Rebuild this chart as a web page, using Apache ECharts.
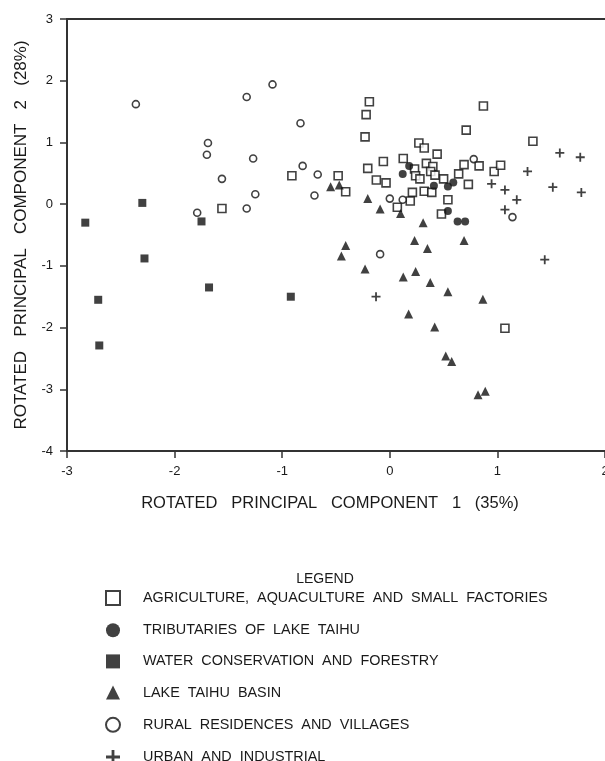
<!DOCTYPE html>
<html>
<head>
    <meta charset="utf-8">
    <title>index</title>
    <script src="https://cdn.jsdelivr.net/npm/echarts@6/dist/echarts.min.js"></script>
    <style>
        html, body { margin: 0; padding: 0; background: #fff; overflow: hidden; }
        #main { width: 605px; height: 761px; }
    </style>
</head>
<body>
    <div id="main"></div>
<script>
    // values, [pc1, pc2]
    var agriculture = [
        [-1.56, -0.07], [-0.91, 0.46], [-0.19, 1.66], [-0.22, 1.45], [-0.23, 1.09],
        [0.87, 1.59], [0.71, 1.20], [1.33, 1.02], [0.27, 0.99], [0.32, 0.91],
        [0.44, 0.81], [-0.06, 0.69], [0.125, 0.74], [-0.205, 0.58], [-0.125, 0.39],
        [-0.035, 0.345], [-0.48, 0.46], [-0.41, 0.20], [0.23, 0.57], [0.24, 0.46],
        [0.28, 0.41], [0.34, 0.66], [0.40, 0.61], [0.38, 0.53], [0.42, 0.47],
        [0.50, 0.41], [0.64, 0.49], [0.69, 0.64], [0.83, 0.62], [0.73, 0.32],
        [0.97, 0.53], [1.03, 0.63], [0.32, 0.21], [0.39, 0.19], [0.21, 0.19],
        [0.19, 0.05], [0.54, 0.07], [0.07, -0.05], [0.48, -0.16], [1.07, -2.01]
    ];
    var tributaries = [
        [0.18, 0.62], [0.12, 0.49], [0.41, 0.30], [0.54, 0.285],
        [0.59, 0.35], [0.54, -0.11], [0.63, -0.28], [0.70, -0.28]
    ];
    var waterForestry = [
        [-2.83, -0.30], [-2.30, 0.02], [-1.75, -0.28], [-2.28, -0.88],
        [-2.71, -1.55], [-2.70, -2.29], [-1.68, -1.35], [-0.92, -1.50]
    ];
    var taihuBasin = [
        [-0.55, 0.28], [-0.47, 0.31], [-0.205, 0.09], [-0.09, -0.08], [0.10, -0.15],
        [0.31, -0.30], [-0.41, -0.67], [-0.45, -0.84], [0.23, -0.59], [0.69, -0.59],
        [0.35, -0.72], [-0.23, -1.05], [0.125, -1.18], [0.24, -1.09], [0.376, -1.27],
        [0.54, -1.42], [0.865, -1.54], [0.175, -1.78], [0.417, -1.99], [0.52, -2.46],
        [0.575, -2.55], [0.82, -3.09], [0.887, -3.03]
    ];
    var rural = [
        [-2.36, 1.62], [-1.69, 0.99], [-1.70, 0.80], [-1.56, 0.41], [-1.79, -0.14],
        [-1.33, 1.735], [-1.09, 1.94], [-1.27, 0.74], [-1.25, 0.16], [-1.33, -0.07],
        [-0.83, 1.31], [-0.81, 0.62], [-0.67, 0.48], [-0.70, 0.14], [0.00, 0.09],
        [0.12, 0.07], [0.78, 0.73], [1.14, -0.21], [-0.09, -0.81]
    ];
    var urban = [
        [1.58, 0.83], [1.77, 0.76], [1.28, 0.53], [0.946, 0.33], [1.07, 0.23],
        [1.515, 0.275], [1.78, 0.19], [1.18, 0.07], [1.07, -0.09], [1.44, -0.90],
        [-0.128, -1.50]
    ];

    var seriesNames = [
        'AGRICULTURE,  AQUACULTURE  AND  SMALL  FACTORIES',
        'TRIBUTARIES  OF  LAKE  TAIHU',
        'WATER  CONSERVATION  AND  FORESTRY',
        'LAKE  TAIHU  BASIN',
        'RURAL  RESIDENCES  AND  VILLAGES',
        'URBAN  AND  INDUSTRIAL'
    ];

    var plusPath = 'path://M4,0 H6 V4 H10 V6 H6 V10 H4 V6 H0 V4 H4 Z';
    var font = 'Liberation Sans, Arial, sans-serif';
    var ink = '#1a1a1a';

    var chart = echarts.init(document.getElementById('main'));
    var option = {
        backgroundColor: '#fff',
        animation: false,
        title: {
            text: 'LEGEND',
            left: 320,
            top: 567,
            textAlign: 'center',
            textStyle: { fontFamily: font, fontSize: 14, fontWeight: 'normal', color: ink }
        },
        legend: {
            orient: 'vertical',
            left: 105,
            top: 590,
            height: 175,
            padding: 0,
            itemWidth: 14,
            itemHeight: 14,
            itemGap: 17.2,
            data: seriesNames,
            textStyle: { fontFamily: font, fontSize: 14.4, lineHeight: 14, color: ink, padding: [0, 0, 0, 18] }
        },
        grid: { left: 67, right: 0, top: 19, bottom: 310, outerBoundsMode: 'none', containLabel: false },
        xAxis: [{
            type: 'value',
            min: -3, max: 2, interval: 1,
            name: 'ROTATED   PRINCIPAL   COMPONENT   1   (35%)',
            nameLocation: 'middle',
            nameGap: 44,
            nameTextStyle: { fontFamily: font, fontSize: 16.5, color: ink, padding: [0, 12, 0, 0] },
            axisLine: { onZero: false, lineStyle: { color: '#333', width: 2 } },
            axisTick: { length: 7, lineStyle: { color: '#333', width: 1.5 } },
            axisLabel: { fontFamily: font, fontSize: 13, color: ink, margin: 14 },
            splitLine: { show: false }
        }, {
            type: 'value',
            position: 'top',
            min: -3, max: 2,
            axisLine: { onZero: false, lineStyle: { color: '#333', width: 2 } },
            axisTick: { show: false },
            axisLabel: { show: false },
            splitLine: { show: false }
        }],
        yAxis: {
            type: 'value',
            min: -4, max: 3, interval: 1,
            name: 'ROTATED   PRINCIPAL   COMPONENT   2   (28%)',
            nameLocation: 'middle',
            nameGap: 37,
            nameTextStyle: { fontFamily: font, fontSize: 17, color: ink },
            axisLine: { show: true, onZero: false, lineStyle: { color: '#333', width: 2 } },
            axisTick: { show: true, length: 7, lineStyle: { color: '#333', width: 1.5 } },
            axisLabel: { fontFamily: font, fontSize: 13, color: ink, margin: 14 },
            splitLine: { show: false }
        },
        series: [
            {
                name: seriesNames[0], type: 'scatter', data: agriculture,
                symbol: 'rect', symbolSize: 8,
                itemStyle: { color: '#fff', borderColor: '#111', borderWidth: 1.6 }
            },
            {
                name: seriesNames[1], type: 'scatter', data: tributaries,
                symbol: 'circle', symbolSize: 8,
                itemStyle: { color: '#111' }
            },
            {
                name: seriesNames[2], type: 'scatter', data: waterForestry,
                symbol: 'rect', symbolSize: 8,
                itemStyle: { color: '#111' }
            },
            {
                name: seriesNames[3], type: 'scatter', data: taihuBasin,
                symbol: 'triangle', symbolSize: 9,
                itemStyle: { color: '#111' }
            },
            {
                name: seriesNames[4], type: 'scatter', data: rural,
                symbol: 'circle', symbolSize: 7,
                itemStyle: { color: '#fff', borderColor: '#111', borderWidth: 1.6 }
            },
            {
                name: seriesNames[5], type: 'scatter', data: urban,
                symbol: plusPath, symbolSize: 9,
                itemStyle: { color: '#111' }
            }
        ]
    };
    chart.setOption(option);
</script>
</body>
</html>
